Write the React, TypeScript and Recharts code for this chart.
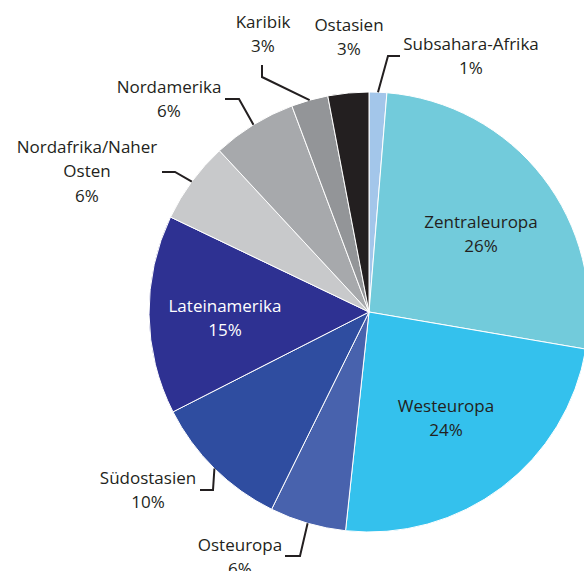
import React from 'react';
import { PieChart, Pie, Cell } from 'recharts';

const regions = [
  'Subsahara-Afrika',
  'Zentraleuropa',
  'Westeuropa',
  'Osteuropa',
  'Südostasien',
  'Lateinamerika',
  'Nordafrika/Naher Osten',
  'Nordamerika',
  'Karibik',
  'Ostasien',
];
const shares = [1.3, 26.4, 24, 5.6, 10.2, 14.6, 6, 6.2, 2.7, 3];
const colors = [
  '#a3c6ea', '#72cbdb', '#34c1ed', '#4862ad', '#2f4da0',
  '#2e3192', '#c8c9cb', '#a7a9ac', '#939598', '#231f20',
];
// label name lines (as printed)
const labelLines = [
  ['Subsahara-Afrika'],
  ['Zentraleuropa'],
  ['Westeuropa'],
  ['Osteuropa'],
  ['Südostasien'],
  ['Lateinamerika'],
  ['Nordafrika/Naher', 'Osten'],
  ['Nordamerika'],
  ['Karibik'],
  ['Ostasien'],
];

const data = regions.map((name, i) => ({ name, value: shares[i] }));

// label layout, offsets from pie centre: text centre (first line) and leader elbow/end
type Layout = { tx: number; ty: number; line?: [number, number, number, number]; fill?: string };
const layout: Layout[] = [
  { tx: 102, ty: -269, line: [19, -256, 31, -256] },
  { tx: 112, ty: -91 },
  { tx: 77, ty: 93 },
  { tx: -129, ty: 232, line: [-69, 244, -84, 244] },
  { tx: -221, ty: 165, line: [-156, 178, -169, 178] },
  { tx: -144, ty: -7, fill: '#ffffff' },
  { tx: -282, ty: -166, line: [-194, -140, -207, -140] },
  { tx: -200, ty: -226, line: [-130, -213, -144, -213] },
  { tx: -106, ty: -291, line: [-107, -235, -107, -247] },
  { tx: -20, ty: -288 },
];

const RAD = Math.PI / 180;
const LINE_H = 24.5;

const renderLabel = (props: any) => {
  const { cx, cy, midAngle, outerRadius, index, percent } = props;
  const l = layout[index];
  const lines = [...labelLines[index], `${Math.round(percent * 100)}%`];
  const sx = cx + outerRadius * Math.cos(-midAngle * RAD);
  const sy = cy + outerRadius * Math.sin(-midAngle * RAD);
  return (
    <g key={`lbl-${index}`}>
      {l.line && (
        <polyline
          points={`${sx},${sy} ${cx + l.line[0]},${cy + l.line[1]} ${cx + l.line[2]},${cy + l.line[3]}`}
          fill="none"
          stroke="#231f20"
          strokeWidth={2}
        />
      )}
      {lines.map((t, k) => (
        <text
          key={k}
          x={cx + l.tx}
          y={cy + l.ty + k * LINE_H}
          textAnchor="middle"
          dominantBaseline="central"
          fill={l.fill || '#231f20'}
          fontSize={17}
          fontFamily="'Open Sans', sans-serif"
        >
          {t}
        </text>
      ))}
    </g>
  );
};

export default function App() {
  return (
    <div style={{ width: 584, height: 571, background: '#fff' }}>
      <style>{`body { margin: 0; }`}</style>
      <PieChart width={584} height={571} margin={{ top: 0, right: 0, bottom: 0, left: 0 }}>
        <Pie
          data={data}
          dataKey="value"
          nameKey="name"
          cx={369}
          cy={312}
          outerRadius={220}
          startAngle={90}
          endAngle={-270}
          stroke="#ffffff"
          strokeWidth={1}
          label={renderLabel}
          labelLine={false}
          isAnimationActive={false}
        >
          {data.map((d, i) => (
            <Cell key={d.name} fill={colors[i]} />
          ))}
        </Pie>
      </PieChart>
    </div>
  );
}
